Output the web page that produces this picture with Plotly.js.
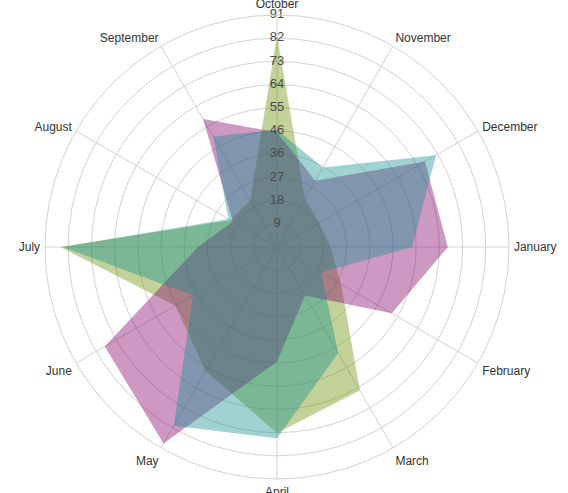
<!DOCTYPE html>
<html>
<head>
<meta charset="utf-8">
<script src="https://cdn.plot.ly/plotly-3.0.1.min.js"></script>
<style>
  html, body { margin: 0; padding: 0; background: #ffffff; }
  #chart { width: 568px; height: 493px; }
</style>
</head>
<body>
<div id="chart"></div>
<script>
// Categories, clockwise from the top
const months = ["October", "November", "December", "January", "February", "March",
                "April", "May", "June", "July", "August", "September"];

// Series values
const seriesGreen  = [83, 22, 19, 21, 29, 65, 73, 56, 46, 85, 21, 21];
const seriesPurple = [45, 30, 67, 67, 52, 22, 45, 89, 78, 31, 20, 58];
const seriesTeal   = [46, 36, 72, 53, 20, 48, 75, 81, 38, 84, 22, 50];

// Radial ticks
const radialMax = 91;
const tickVals  = [9.1, 18.2, 27.3, 36.4, 45.5, 54.6, 63.7, 72.8, 81.9, 91];
const tickText  = ["9", "18", "27", "36", "46", "55", "64", "73", "82", "91"];

const FONT = "Liberation Sans, Arial, sans-serif";

function area(values, color) {
  return {
    type: "scatterpolar",
    r: values,
    theta: months,
    mode: "lines",
    fill: "toself",
    fillcolor: color,
    line: { width: 0, color: "rgba(0,0,0,0)" },
    hoverinfo: "skip",
    showlegend: false
  };
}

const data = [
  area(seriesGreen,  "rgba(105,143,0,0.4)"),
  area(seriesPurple, "rgba(130,0,105,0.4)"),
  area(seriesTeal,   "rgba(18,143,143,0.4)"),
  {
    type: "scatterpolar",
    r: tickVals,
    theta: tickVals.map(() => months[0]),
    mode: "text",
    text: tickText,
    textposition: "middle center",
    textfont: { family: FONT, size: 13, color: "#4a4a4a" },
    cliponaxis: false,
    hoverinfo: "skip",
    showlegend: false
  }
];

const grid = "#d2d2d2";
const layout = {
  width: 568,
  height: 493,
  margin: { l: 45, r: 59, t: 15, b: 14, pad: 0 },
  paper_bgcolor: "#ffffff",
  showlegend: false,
  font: { family: FONT, size: 12, color: "#333333" },
  polar: {
    bgcolor: "#ffffff",
    domain: { x: [0, 1], y: [0, 1] },
    angularaxis: {
      type: "category",
      categoryarray: months,
      rotation: 90,
      direction: "clockwise",
      showline: true,
      linecolor: grid,
      linewidth: 1,
      showgrid: true,
      gridcolor: grid,
      gridwidth: 1,
      ticks: "outside",
      ticklen: 2,
      tickcolor: "rgba(0,0,0,0)",
      tickfont: { family: FONT, size: 12, color: "#333333" }
    },
    radialaxis: {
      range: [0, radialMax],
      tickmode: "array",
      tickvals: tickVals,
      ticktext: tickText,
      showticklabels: false,
      ticks: "",
      showline: false,
      showgrid: true,
      gridcolor: grid,
      gridwidth: 1,
      angle: 90
    }
  }
};

Plotly.newPlot("chart", data, layout, { staticPlot: true, displayModeBar: false });
</script>
</body>
</html>
